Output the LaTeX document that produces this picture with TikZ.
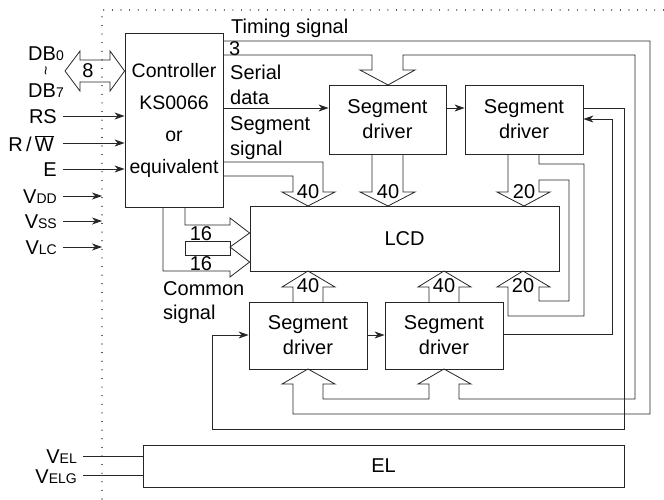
\documentclass[tikz,border=0pt]{standalone}
\usepackage{fontspec}
\setmainfont{Liberation Sans}
\usetikzlibrary{arrows.meta,calc}
\newcommand\smallsub[1]{{\fontsize{14}{14}\selectfont #1}}
\begin{document}
\begin{tikzpicture}[x=1pt,y=-1pt,
  ln/.style={line width=0.8pt, draw=black!85},
  box/.style={ln, fill=white, inner sep=0pt, font=\fontsize{20}{25}\selectfont, align=center},
  arr/.style={ln, -{Stealth[length=10pt,width=7pt,inset=3pt]}},
  txt/.style={inner sep=0pt, font=\fontsize{20}{25}\selectfont},
  dotline/.style={line width=1.1pt, black!80, dash pattern=on 0.01pt off 8.6pt, line cap=round}]
\useasboundingbox (0,0) rectangle (664,499);
% dotted border
\draw[dotline] (102,499) -- (102,10) -- (664,10);
% boxes
\node[box, minimum width=98pt, minimum height=174pt, font=\fontsize{19.5}{32}\selectfont] (ctrl) at (174,120) {Controller\\KS0066\\or\\equivalent};
\node[box, minimum width=117pt, minimum height=69pt] (sd1) at (387.5,119.5) {Segment\\driver};
\node[box, minimum width=118pt, minimum height=69pt] (sd2) at (524,119.5) {Segment\\driver};
\node[box, minimum width=309pt, minimum height=65pt] (lcd) at (404.5,238.5) {LCD};
\node[box, minimum width=118pt, minimum height=67pt] (sd3) at (308,335.5) {Segment\\driver};
\node[box, minimum width=118pt, minimum height=67pt] (sd4) at (444,335.5) {Segment\\driver};
\node[box, minimum width=481pt, minimum height=42pt] (el) at (383.5,466) {EL};
% left labels
\node[txt, anchor=base east] (db0) at (64,60) {DB\smallsub{0}};
\node[txt] (tl) at (48,71) {\rotatebox{90}{\fontsize{16}{16}\selectfont\textasciitilde}};
\node[txt, anchor=base east] (db7) at (64,97) {DB\smallsub{7}};
\node[txt, anchor=base east] (rs) at (57,123) {RS};
\node[txt, anchor=base east] (rw) at (54,151) {R\,/\,$\overline{\hbox{W}}$};
\node[txt, anchor=base east] (e) at (57,176) {E};
\node[txt, anchor=base east] (vdd) at (57,203) {V\smallsub{DD}};
\node[txt, anchor=base east] (vss) at (57,228) {V\smallsub{SS}};
\node[txt, anchor=base east] (vlc) at (57,254) {V\smallsub{LC}};
\node[txt, anchor=base east] (vel) at (77,463) {V\smallsub{EL}};
\node[txt, anchor=base east] (velg) at (77,483) {V\smallsub{ELG}};
% signal labels
\node[txt, anchor=base west] (timing) at (231,33) {Timing signal};
\node[txt, anchor=base west] (three) at (229,55) {3};
\node[txt, anchor=base west] (serial) at (230,79) {Serial};
\node[txt, anchor=base west] (data) at (230,104) {data};
\node[txt, anchor=base west] (segm) at (230,130) {Segment};
\node[txt, anchor=base west] (sign) at (230,155) {signal};
\node[txt, anchor=base west] (comm) at (163,295) {Common};
\node[txt, anchor=base west] (csig) at (163,319) {signal};
% numbers
\node[txt] (n8) at (88,71) {8};
\node[txt] (n40a) at (308,192) {40};
\node[txt] (n40b) at (388,192) {40};
\node[txt] (n20a) at (524,192) {20};
\node[txt] (n40c) at (308,286) {40};
\node[txt] (n40d) at (444,286) {40};
\node[txt] (n20b) at (523,286) {20};
\node[txt] (n16a) at (201,234) {16};
\node[txt] (n16b) at (201,264) {16};
% data bus double arrow
\draw[ln] (65,71) -- (80,51) -- (80,60) -- (110,60) -- (110,51) -- (ctrl.west |- 0,71) -- (110,91) -- (110,82) -- (80,82) -- (80,91) -- cycle;
% control inputs
\draw[arr] (63,116) -- (ctrl.west |- 0,116);
\draw[arr] (63,143) -- (ctrl.west |- 0,143);
\draw[arr] (63,169) -- (ctrl.west |- 0,169);
\draw[arr] (63,196) -- (102,196);
\draw[arr] (63,221) -- (102,221);
\draw[arr] (63,247) -- (102,247);
\draw[ln] (83,456) -- (el.west |- 0,456);
\draw[ln] (83,475) -- (el.west |- 0,475);
% common signal arrows
\draw[ln] (163,207) -- (163,271) -- (230,271) -- (230,277) -- (lcd.west |- 0,262) -- (230,247) -- (lcd.west |- 0,233) -- (230,218) -- (230,225) -- (185,225) -- (185,207);
\draw[ln] (185,241) rectangle (230,255);
% controller segment signal arrow to LCD
\draw[ln] (ctrl.east |- 0,176) -| (293,192) -- (282,192) -- (308,206) -- (335,192) -- (323,192) |- (ctrl.east |- 0,162);
% SD1 to LCD
\draw[ln] (372,154) -- (372,192) -- (360,192) -- (388,206) -- (415,192) -- (403,192) -- (403,154);
% SD2 to LCD (top and bottom 20)
\draw[ln] (508,154) -- (508,192) -- (497,192) -- (524,206) -- (550,192) -- (539,192) -- (539,180) -- (569,180) -- (569,301) -- (539,301) -- (539,287) -- (550,287) -- (523,271) -- (497,287) -- (508,287) -- (508,316) -- (584,316) -- (584,164) -- (539,164) -- (539,154);
% SD3, SD4 to LCD
\draw[ln] (293,302) -- (293,287) -- (282,287) -- (308,271) -- (335,287) -- (323,287) -- (323,302);
\draw[ln] (429,302) -- (429,287) -- (418,287) -- (444,271) -- (471,287) -- (459,287) -- (459,302);
% timing signal bus
\draw[ln] (ctrl.east |- 0,55) -- (372,55) -- (372,70) -- (360,70) -- (388,85) -- (415,70) -- (403,70) -- (403,55) -- (635,55) -- (635,399) -- (459,399) -- (459,384) -- (471,384) -- (444,369) -- (418,384) -- (429,384) -- (429,399) -- (323,399) -- (323,384) -- (335,384) -- (308,369) -- (282,384) -- (293,384) -- (293,414) -- (650,414) -- (650,41) -- (ctrl.east |- 0,41);
% serial data
\draw[arr] (ctrl.east |- 0,108) -- (sd1.west |- 0,108);
\draw[arr] (sd1.east |- 0,108) -- (sd2.west |- 0,108);
\draw[arr] (sd2.east |- 0,108) -- (624,108) -- (624,429) -- (212,429) -- (212,335) -- (sd3.west |- 0,335);
\draw[arr] (sd3.east |- 0,335) -- (sd4.west |- 0,335);
\draw[arr] (sd4.east |- 0,334) -- (612,334) -- (612,119) -- (sd2.east |- 0,119);
\end{tikzpicture}
\end{document}
